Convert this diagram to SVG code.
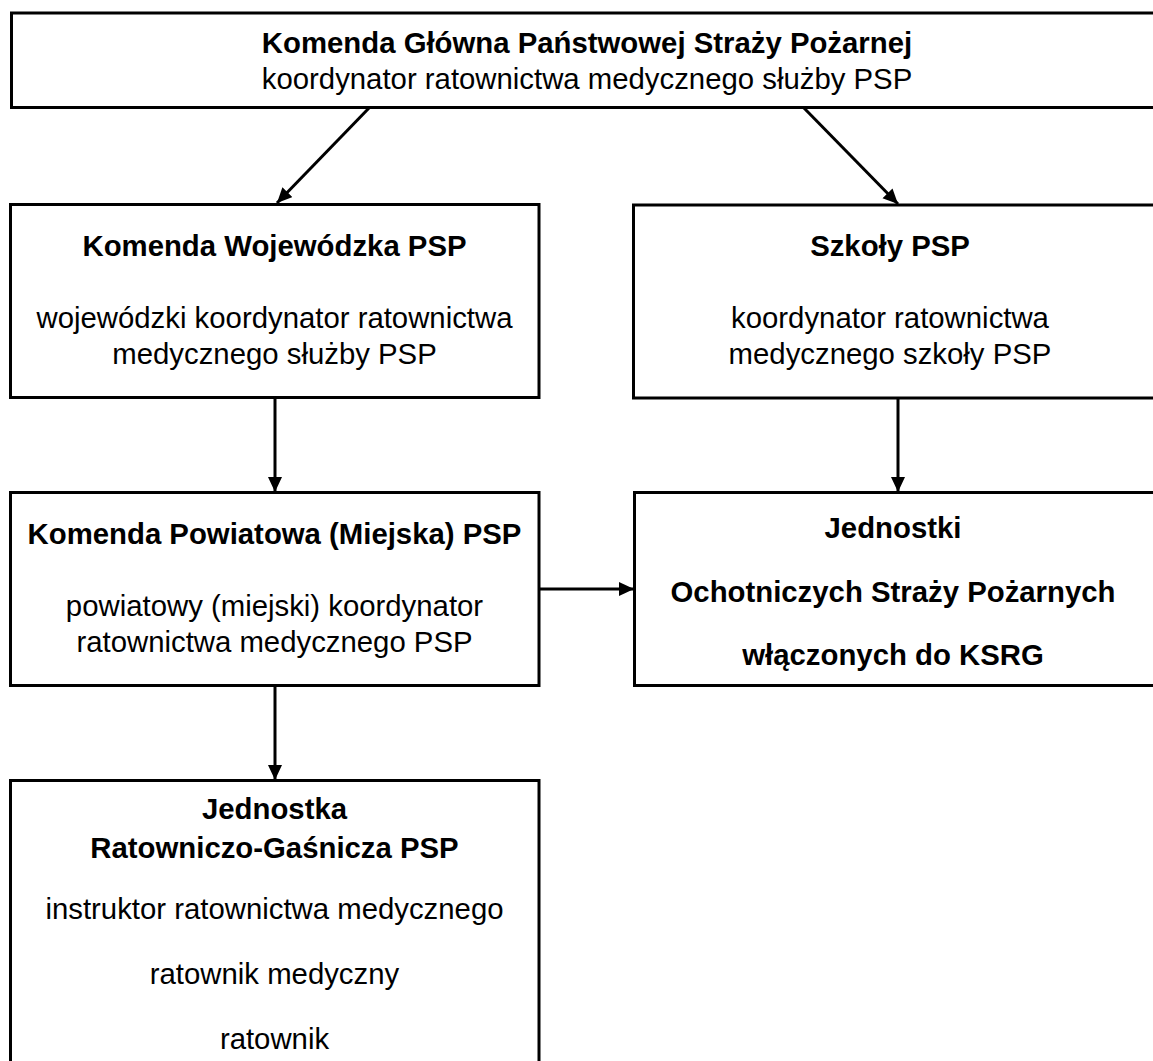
<svg xmlns="http://www.w3.org/2000/svg" width="1153" height="1061" viewBox="0 0 1153 1061">
<style>
.box{fill:#fff;stroke:#000;stroke-width:3}
.t{font-family:"Liberation Sans",Arial,sans-serif;font-size:29.33px;text-anchor:middle;fill:#000}
.b{font-weight:bold}
.c{stroke:#000;stroke-width:3;fill:none;marker-end:url(#ah)}
</style>
<defs>
<marker id="ah" markerUnits="userSpaceOnUse" markerWidth="16" markerHeight="15" refX="15" refY="7" orient="auto">
<path d="M0,0 L15,7 L0,14 z" fill="#000"/>
</marker>
</defs>
<rect width="1153" height="1061" fill="#fff"/>
<g id="kg">
<rect class="box" x="11.5" y="13" width="1152" height="94.5"/>
<text class="t b" x="587" y="53">Komenda Główna Państwowej Straży Pożarnej</text>
<text class="t" x="587" y="89">koordynator ratownictwa medycznego służby PSP</text>
</g>
<g id="kw">
<rect class="box" x="10.5" y="204.5" width="528.5" height="193"/>
<text class="t b" x="274.5" y="256">Komenda Wojewódzka PSP</text>
<text class="t" x="274.5" y="328">wojewódzki koordynator ratownictwa</text>
<text class="t" x="274.5" y="364">medycznego służby PSP</text>
</g>
<g id="sz">
<rect class="box" x="633.5" y="205" width="525" height="193"/>
<text class="t b" x="890" y="256">Szkoły PSP</text>
<text class="t" x="890" y="328">koordynator ratownictwa</text>
<text class="t" x="890" y="364">medycznego szkoły PSP</text>
</g>
<g id="kp">
<rect class="box" x="10.5" y="492.5" width="528.5" height="193"/>
<text class="t b" x="274.5" y="544">Komenda Powiatowa (Miejska) PSP</text>
<text class="t" x="274.5" y="616">powiatowy (miejski) koordynator</text>
<text class="t" x="274.5" y="652">ratownictwa medycznego PSP</text>
</g>
<g id="osp">
<rect class="box" x="634.5" y="492.5" width="525" height="193"/>
<text class="t b" x="893" y="538">Jednostki</text>
<text class="t b" x="893" y="602">Ochotniczych Straży Pożarnych</text>
<text class="t b" x="893" y="665">włączonych do KSRG</text>
</g>
<g id="jrg">
<rect class="box" x="10.5" y="780.5" width="528.5" height="300"/>
<text class="t b" x="274.5" y="819">Jednostka</text>
<text class="t b" x="274.5" y="858">Ratowniczo-Gaśnicza PSP</text>
<text class="t" x="274.5" y="919">instruktor ratownictwa medycznego</text>
<text class="t" x="274.5" y="984">ratownik medyczny</text>
<text class="t" x="274.5" y="1049">ratownik</text>
</g>
<g id="connectors">
<line class="c" x1="370" y1="107" x2="277" y2="203"/>
<line class="c" x1="803" y1="107" x2="898" y2="204"/>
<line class="c" x1="275" y1="397" x2="275" y2="492"/>
<line class="c" x1="898" y1="398" x2="898" y2="492"/>
<line class="c" x1="539" y1="589" x2="634" y2="589"/>
<line class="c" x1="275" y1="686" x2="275" y2="780"/>
</g>
</svg>
